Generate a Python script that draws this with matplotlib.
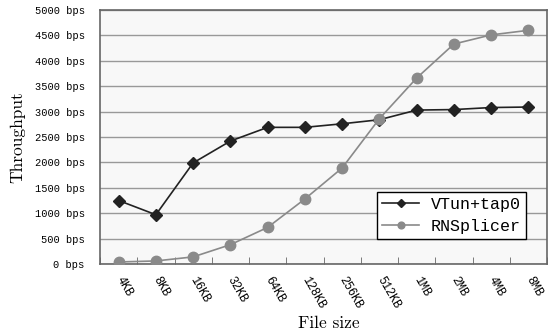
import numpy as np
import matplotlib.pyplot as plt

sizes = ['4KB', '8KB', '16KB', '32KB', '64KB', '128KB', '256KB', '512KB', '1MB', '2MB', '4MB', '8MB']
vtun = [1250, 970, 1990, 2420, 2690, 2690, 2760, 2840, 3030, 3040, 3080, 3090]
rnsplicer = [40, 60, 140, 380, 720, 1280, 1890, 2860, 3660, 4330, 4510, 4600]
yticks = [0, 500, 1000, 1500, 2000, 2500, 3000, 3500, 4000, 4500, 5000]

mono = 'Liberation Mono'
serif = 'cmr10'

fig = plt.figure(figsize=(5.49, 3.34), dpi=100)
ax = fig.add_axes([100/549, 1 - 264/334, 447/549, 254/334])
ax.set_facecolor('#f8f8f8')

x = np.arange(len(sizes))
ax.plot(x, vtun, color='#222222', marker='D', markersize=6, lw=1.2, label='VTun+tap0', zorder=3)
ax.plot(x, rnsplicer, color='#8a8a8a', marker='o', markersize=7.5, lw=1.2, label='RNSplicer', zorder=3)

ax.set_xlim(-0.5, len(sizes) - 0.5)
ax.set_ylim(0, 5000)
ax.set_yticks(yticks)
ax.set_yticklabels(['%d bps' % v for v in yticks], fontfamily=mono, fontsize=7.5)
ax.yaxis.grid(True, color='#999999', lw=1)
ax.set_axisbelow(True)
ax.tick_params(axis='y', length=0, pad=11)

ax.set_xticks(x)
ax.set_xticklabels(sizes, fontfamily=mono, fontsize=8.5, rotation=-60,
                   rotation_mode='anchor', ha='left', va='center')
ax.tick_params(axis='x', length=0, pad=10)
ax.set_xticks(np.arange(-0.5, len(sizes)), minor=True)
ax.tick_params(axis='x', which='minor', direction='in', length=5, color='#666666')

for s in ax.spines.values():
    s.set_color('#666666')
    s.set_linewidth(1.2)

ax.set_ylabel('Throughput', fontfamily=serif, fontsize=12.5)
ax.yaxis.set_label_coords(-75/447, 0.5)
ax.set_xlabel('File size', fontfamily=serif, fontsize=12.5)
ax.xaxis.set_label_coords(0.5 + 5/447, -52/254)

leg = ax.legend(loc='lower right', bbox_to_anchor=(0.952, 0.098), prop={'family': mono, 'size': 12},
                fancybox=False, framealpha=1, edgecolor='black', handlelength=2.2,
                handletextpad=0.7, borderpad=0.3, labelspacing=0.45, markerscale=0.65,
                borderaxespad=0)
leg.get_frame().set_linewidth(1.0)

fig.savefig('out.png', dpi=100)
